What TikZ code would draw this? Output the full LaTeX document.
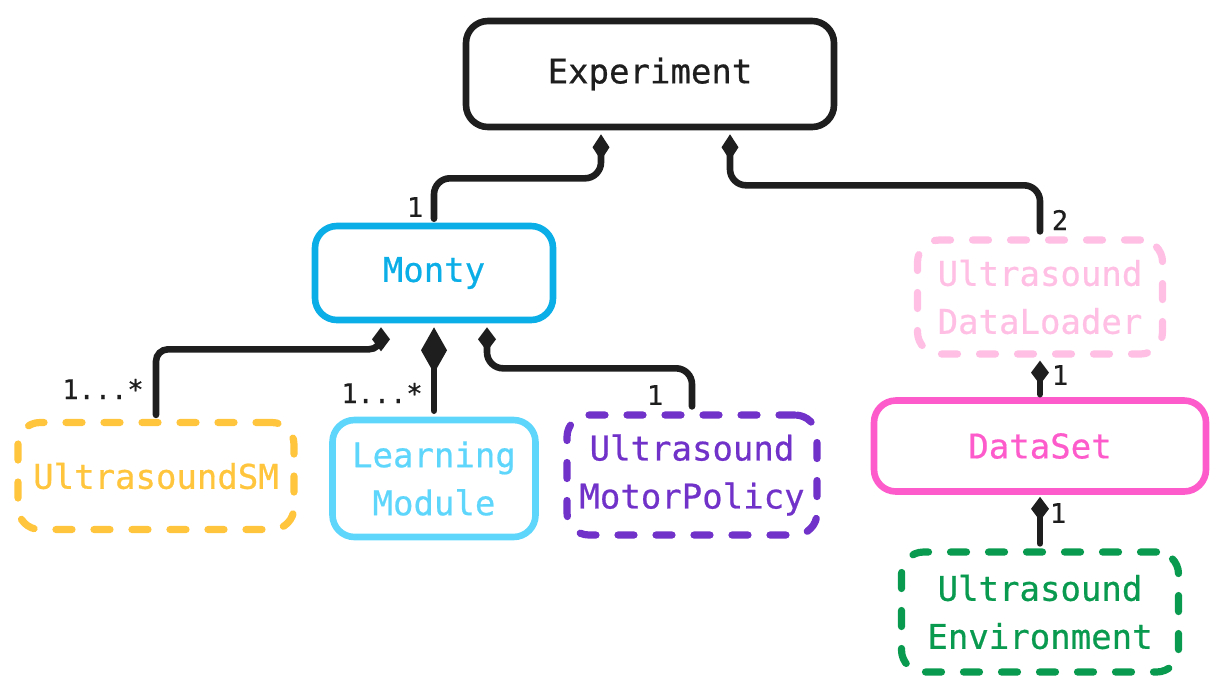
\documentclass[tikz,border=0pt]{standalone}
\usepackage{fontspec}
\newfontfamily\hand[FakeBold=0.6]{DejaVu Sans Mono}
\usetikzlibrary{arrows.meta}
\definecolor{ink}{HTML}{1E1E1E}
\definecolor{montyc}{HTML}{0BAEE6}
\definecolor{lmc}{HTML}{5ED6FC}
\definecolor{smc}{HTML}{FFC53D}
\definecolor{mpc}{HTML}{7032C9}
\definecolor{dlc}{HTML}{FFBFE4}
\definecolor{dsc}{HTML}{FD5BCB}
\definecolor{envc}{HTML}{0A9A4F}
\begin{document}
\begin{tikzpicture}[x=0.5pt,y=-0.5pt,
  box/.style={draw=#1, text=#1, line width=3.3pt, rounded corners=11pt, align=center,
    font=\hand\fontsize{17}{24}\selectfont, inner sep=0pt},
  dbox/.style={box=#1, line width=3.6pt, dash pattern=on 8pt off 11pt, line cap=round},
  conn/.style={draw=ink, line width=3.3pt, line cap=round, rounded corners=8pt},
  smalld/.style={{Diamond[length=12pt,width=9pt]}-},
  topd/.style={{Diamond[length=13pt,width=8.5pt]}-},
  bigd/.style={{Diamond[length=23pt,width=13pt]}-},
  lbl/.style={font=\hand\fontsize{13.5}{16}\selectfont, text=ink, inner sep=0pt}]
\useasboundingbox (0,0) rectangle (1224,692);

% nodes
\node[box=ink, minimum width=184pt, minimum height=53pt] (exp) at (650,74) {Experiment};
\node[box=montyc, minimum width=119pt, minimum height=47pt] (mon) at (434,273) {Monty};
\node[box=lmc, minimum width=101.5pt, minimum height=58.5pt] (lm) at (434,478.5) {Learning\\Module};
\node[dbox=smc, minimum width=138pt, minimum height=53.5pt] (sm) at (156,476) {UltrasoundSM};
\node[dbox=mpc, minimum width=125pt, minimum height=60pt] (mp) at (692,475) {Ultrasound\\MotorPolicy};
\node[dbox=dlc, minimum width=122.5pt, minimum height=57pt] (dl) at (1040,297) {Ultrasound\\DataLoader};
\node[box=dsc, minimum width=166pt, minimum height=45.5pt] (ds) at (1040,446) {DataSet};
\node[dbox=envc, minimum width=138.5pt, minimum height=60pt] (env) at (1040,612) {Ultrasound\\Environment};

% connectors
\draw[conn,topd] ([xshift=-24.5pt,yshift=-2pt]exp.south) -- ++(0,-22pt) -| ([yshift=2pt]mon.north);
\draw[conn,topd] ([xshift=40pt,yshift=-2pt]exp.south) -- ++(0,-25.5pt) -| ([yshift=2.5pt]dl.north);
\draw[conn,smalld,rounded corners=6pt] ([xshift=-26.5pt,yshift=-2pt]mon.south) -- ++(0,-11pt) -| ([yshift=2pt]sm.north);
\draw[conn,bigd] ([yshift=-2pt]mon.south) -- ([yshift=3pt]lm.north);
\draw[conn,smalld] ([xshift=26.5pt,yshift=-2pt]mon.south) -- ++(0,-20.5pt) -| ([yshift=2.5pt]mp.north);
\draw[conn,smalld] ([yshift=-1.5pt]dl.south) -- ([yshift=1.5pt]ds.north);
\draw[conn,smalld] ([yshift=-1pt]ds.south) -- ([yshift=2.5pt]env.north);

% multiplicity labels
\node[lbl] (m1) at (415,207) {1};
\node[lbl] (m2) at (1060,220) {2};
\node[lbl] (m3) at (103,389) {1...*};
\node[lbl] (m4) at (382,393) {1...*};
\node[lbl] (m5) at (655,395) {1};
\node[lbl] (m6) at (1060,375) {1};
\node[lbl] (m7) at (1058,513) {1};
\end{tikzpicture}
\end{document}
